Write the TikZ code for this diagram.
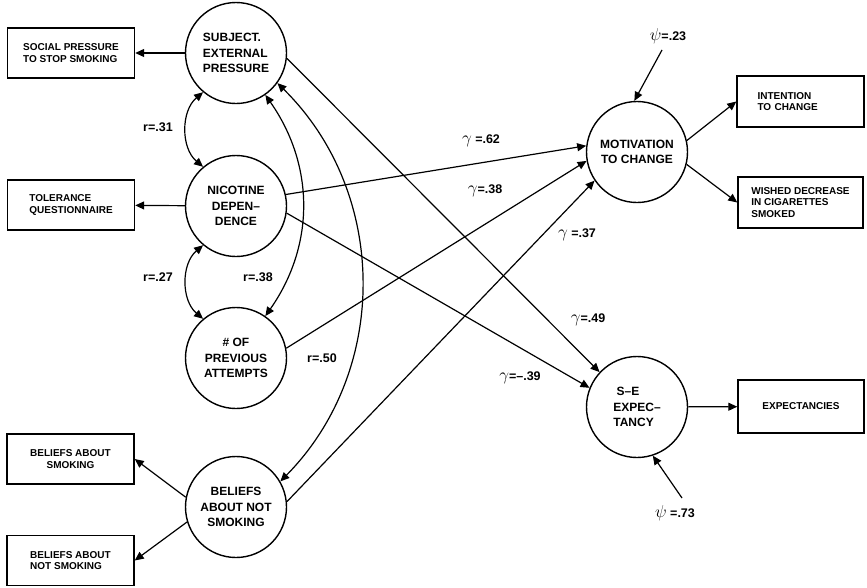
\documentclass[tikz,border=0pt]{standalone}
\usepackage{fontspec}
\setmainfont{Liberation Sans}
\usetikzlibrary{arrows.meta}

\begin{document}
\begin{tikzpicture}[x=1pt,y=-1pt,
    latent/.style={circle,draw,line width=1.4pt,minimum size=101pt,inner sep=0pt,
      align=center,font=\bfseries\fontsize{12}{15.5}\selectfont},
    obs/.style={draw,line width=1.4pt,minimum width=127pt,minimum height=50pt,
      align=left,font=\bfseries\fontsize{10}{11.5}\selectfont},
    arr/.style={-{Triangle[length=9pt,width=8pt]},line width=1.2pt},
    cor/.style={{Triangle[length=9pt,width=8pt]}-{Triangle[length=9pt,width=8pt]},line width=1.2pt},
    coef/.style={font=\bfseries\fontsize{12.5}{14}\selectfont}
  ]
    \useasboundingbox (0,0) rectangle (867,587);
    % latent variables
    \node[latent,align=left] (subj) at (236,53) {SUBJECT.\\EXTERNAL\\PRESSURE};
    \node[latent] (nic) at (236,206) {NICOTINE\\DEPEN--\\DENCE};
    \node[latent] (prev) at (236,358) {\# OF\\PREVIOUS\\ATTEMPTS};
    \node[latent] (beliefs) at (236,507) {BELIEFS\\ABOUT NOT\\SMOKING};
    \node[latent] (mot) at (637,152) {MOTIVATION\\TO CHANGE};
    \node[latent,align=left] (se) at (637,407) {\ S--E\\EXPEC--\\TANCY};
    % indicators
    \node[obs] (social) at (71,53) {SOCIAL PRESSURE\\TO STOP SMOKING};
    \node[obs] (tol) at (71,205) {TOLERANCE\\QUESTIONNAIRE};
    \node[obs,align=center] (bsmok) at (70.5,459) {BELIEFS ABOUT\\SMOKING};
    \node[obs] (bnot) at (70.5,560.5) {BELIEFS ABOUT\\NOT SMOKING};
    \node[obs,minimum height=51pt,text width=86pt,inner xsep=19.5pt] (intent) at (800.5,101.5) {INTENTION\\TO CHANGE};
    \node[obs,minimum height=51pt,minimum width=125pt] (wished) at (800.5,202.5) {WISHED DECREASE\\IN CIGARETTES\\SMOKED};
    \node[obs,minimum height=53pt,minimum width=126pt] (expect) at (801,406.5) {EXPECTANCIES};
    % measurement paths
    \draw[arr] (subj) -- (social);
    \draw[arr] (nic) -- (tol);
    \draw[arr] (beliefs.169) -- (bsmok.east);
    \draw[arr] (beliefs.197) -- (bnot.east);
    \draw[arr] (mot.13) -- (intent.west);
    \draw[arr] (mot.-14) -- (wished.west);
    \draw[arr] (se) -- (expect);
    % structural paths
    \draw[arr] (subj.-6) -- (se.137);
    \draw[arr] (nic.13) -- (mot.173);
    \draw[arr] (nic.-8) -- (se.158);
    \draw[arr] (prev.11) -- (mot.190);
    \draw[arr] (beliefs.6) -- (mot.214);
    % disturbances
    \coordinate (dmot) at (662,50);
    \coordinate (dse) at (682,498);
    \draw[arr] (dmot) -- (mot.93);
    \draw[arr] (dse) -- (se.-72);
    % correlations
    \draw[cor] (subj.230) to[bend right=50] (nic.130);
    \draw[cor] (nic.230) to[bend right=50] (prev.130);
    \draw[cor] (subj.-55) to[bend left=35] (prev.55);
    \draw[cor] (subj.-36) to[bend left=45] (beliefs.30);
    % coefficients
    \node[coef] (r31) at (158,127) {r=.31};
    \node[coef] (r27) at (158,277) {r=.27};
    \node[coef] (r38) at (258,277) {r=.38};
    \node[coef] (r50) at (322,358) {r=.50};
    \node[coef] (g62) at (481,141) {{\LARGE$\gamma$} =.62};
    \node[coef] (g38) at (485,191) {{\LARGE$\gamma$}=.38};
    \node[coef] (g37) at (577,235) {{\LARGE$\gamma$} =.37};
    \node[coef] (g49) at (588,320) {{\LARGE$\gamma$}=.49};
    \node[coef] (g39) at (520,378) {{\LARGE$\gamma$}=--.39};
    \node[coef] (p23) at (668,36) {{\LARGE$\psi$}=.23};
    \node[coef] (p73) at (675,513) {{\LARGE$\psi$} =.73};
\end{tikzpicture}
\end{document}
